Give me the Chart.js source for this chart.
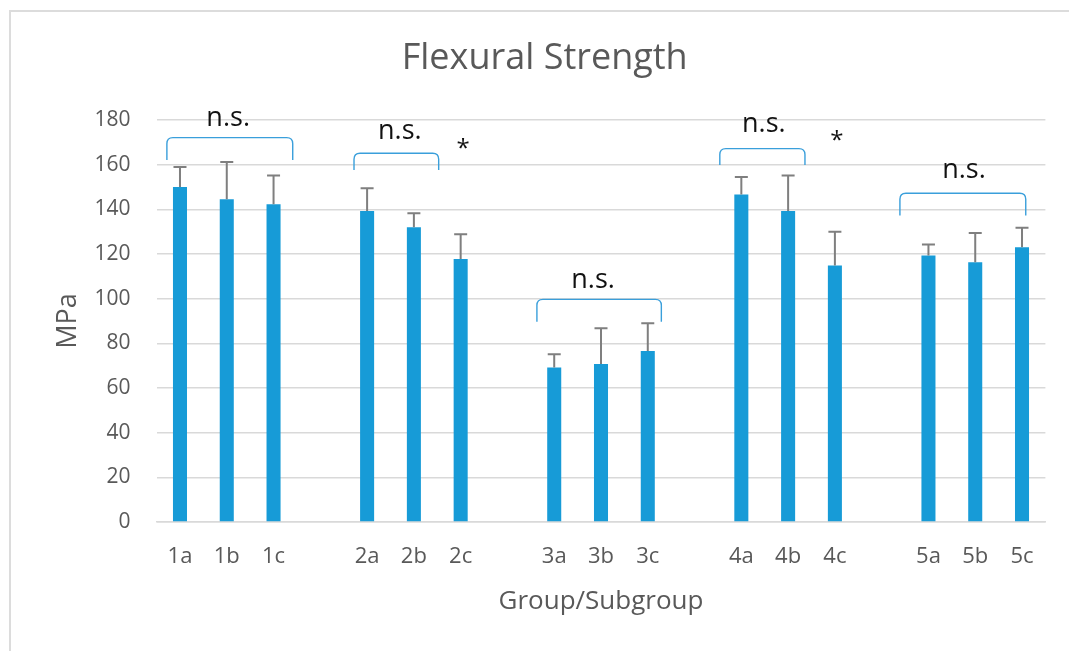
<!DOCTYPE html>
<html>
<head>
<meta charset="utf-8">
<title>Flexural Strength</title>
<script src="https://cdn.jsdelivr.net/npm/chart.js@4.4.1/dist/chart.umd.min.js"></script>
<style>
  html, body { margin: 0; padding: 0; background: #ffffff; }
  #wrap { position: relative; width: 1069px; height: 651px; overflow: hidden; }
  #frame {
    position: absolute; left: 9px; top: 10px; width: 1080px; height: 660px;
    border-left: 2px solid #dcdcdc; border-top: 2px solid #dcdcdc;
    box-sizing: border-box;
  }
  #chart { position: absolute; left: 0; top: 0; }
</style>
</head>
<body>
<div id="wrap">
  <div id="frame"></div>
  <canvas id="chart" width="1069" height="651"></canvas>
</div>
<script>
// Subgroups, with an empty slot between the five groups
const categories = ['1a', '1b', '1c', '', '2a', '2b', '2c', '', '3a', '3b', '3c', '', '4a', '4b', '4c', '', '5a', '5b', '5c'];

// Mean flexural strength (MPa)
const means = [150, 144.5, 142.3, null, 139.3, 132, 117.8, null, 69.2, 70.8, 76.6, null, 146.6, 139.3, 114.8, null, 119.3, 116.3, 123];

// Standard deviation (MPa), drawn upward only
const deviations = [9, 16.7, 12.9, null, 10.1, 6.2, 11, null, 5.9, 15.9, 12.4, null, 7.9, 15.9, 15.2, null, 5, 13.1, 8.8];

// Y axis ticks
const yMin = 0;
const yMax = 180;
const yStep = 20;

// Significance brackets: [from (category position), to, top level, leg end level]
const bracketFrom = [-0.28, 3.72, 7.63, 11.54, 15.39];
const bracketTo = [2.41, 5.53, 10.29, 13.36, 18.08];
const bracketTop = [172.1, 165.1, 99.7, 167.2, 147.2];
const bracketLeg = [162.1, 157.6, 89.7, 159.9, 137.2];

// Bracket labels: [text, category position, baseline level]
const noteText = ['n.s.', 'n.s.', 'n.s.', 'n.s.', 'n.s.', '*', '*'];
const notePos = [1.03, 4.70, 8.83, 12.48, 16.76, 6.05, 14.04];
const noteLevel = [177.3, 171.4, 104.6, 174.8, 153.9, 163.9, 167.3];

const TEXT = '#595959';
const BAR = '#179bd7';
const BRACKET = '#3a9fdb';
const ERR = '#7f7f7f';
const FONT = "'Open Sans', 'Noto Sans', sans-serif";

const errorBars = {
  id: 'errorBars',
  afterDatasetsDraw(chart) {
    const ctx = chart.ctx;
    const y = chart.scales.y;
    const meta = chart.getDatasetMeta(0);
    ctx.save();
    ctx.strokeStyle = ERR;
    ctx.lineWidth = 2;
    meta.data.forEach((bar, i) => {
      const m = means[i];
      const d = deviations[i];
      if (m === null || d === null) return;
      const top = y.getPixelForValue(m + d);
      const base = y.getPixelForValue(m);
      ctx.beginPath();
      ctx.moveTo(bar.x, base);
      ctx.lineTo(bar.x, top);
      ctx.moveTo(bar.x - 6.5, top);
      ctx.lineTo(bar.x + 6.5, top);
      ctx.stroke();
    });
    ctx.restore();
  }
};

const brackets = {
  id: 'brackets',
  afterDraw(chart) {
    const ctx = chart.ctx;
    const x = chart.scales.x;
    const y = chart.scales.y;
    ctx.save();
    ctx.strokeStyle = BRACKET;
    ctx.lineWidth = 1.4;
    const r = 6;
    for (let i = 0; i < bracketFrom.length; i++) {
      const x0 = x.getPixelForValue(bracketFrom[i]);
      const x1 = x.getPixelForValue(bracketTo[i]);
      const yt = y.getPixelForValue(bracketTop[i]);
      const yb = y.getPixelForValue(bracketLeg[i]);
      ctx.beginPath();
      ctx.moveTo(x0, yb);
      ctx.lineTo(x0, yt + r);
      ctx.quadraticCurveTo(x0, yt, x0 + r, yt);
      ctx.lineTo(x1 - r, yt);
      ctx.quadraticCurveTo(x1, yt, x1, yt + r);
      ctx.lineTo(x1, yb);
      ctx.stroke();
    }
    ctx.fillStyle = '#111111';
    ctx.textAlign = 'center';
    ctx.textBaseline = 'alphabetic';
    for (let i = 0; i < noteText.length; i++) {
      const size = noteText[i] === '*' ? 24 : 27;
      ctx.font = size + 'px ' + FONT;
      ctx.fillText(noteText[i], x.getPixelForValue(notePos[i]), y.getPixelForValue(noteLevel[i]));
    }
    ctx.restore();
  }
};

new Chart(document.getElementById('chart'), {
  type: 'bar',
  data: {
    labels: categories,
    datasets: [{
      data: means,
      backgroundColor: BAR,
      borderWidth: 0,
      barPercentage: 0.3,
      categoryPercentage: 1
    }]
  },
  options: {
    responsive: false,
    animation: false,
    events: [],
    layout: { padding: { left: 44, right: 23.6, top: 0, bottom: 0 } },
    plugins: {
      legend: { display: false },
      tooltip: { enabled: false },
      title: {
        display: true,
        text: 'Flexural Strength',
        color: TEXT,
        font: { family: FONT, size: 36, weight: 'normal', lineHeight: 1.2 },
        padding: { top: 37.2, bottom: 39.6 }
      }
    },
    scales: {
      x: {
        grid: { display: false, drawTicks: false },
        border: { display: true, color: '#d9d9d9', width: 1.5 },
        ticks: { color: TEXT, font: { family: FONT, size: 22 }, padding: 22, autoSkip: false, maxRotation: 0 },
        title: {
          display: true,
          text: 'Group/Subgroup',
          color: TEXT,
          font: { family: FONT, size: 26 },
          padding: { top: 0, bottom: 34 }
        },
        afterFit(scale) { scale.height = 129; }
      },
      y: {
        min: yMin,
        max: yMax,
        grid: { color: '#d9d9d9', lineWidth: 1.5, drawTicks: false },
        border: { display: false },
        ticks: { stepSize: yStep, color: TEXT, font: { family: FONT, size: 21 }, padding: 26 },
        title: {
          display: true,
          text: 'MPa',
          color: TEXT,
          font: { family: FONT, size: 27 },
          padding: { top: 7.8, bottom: 0 }
        },
        afterFit(scale) { scale.width = 112.6; }
      }
    }
  },
  plugins: [errorBars, brackets]
});
</script>
</body>
</html>
